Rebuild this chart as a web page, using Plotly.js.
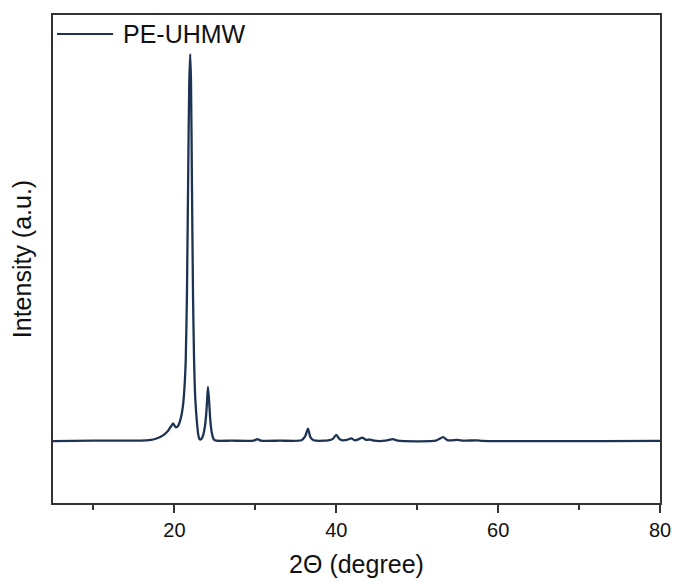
<!DOCTYPE html>
<html>
<head>
<meta charset="utf-8">
<script src="https://cdn.plot.ly/plotly-3.0.1.min.js"></script>
<style>html,body{margin:0;padding:0;background:#fff;}#plot{width:675px;height:581px;}</style>
</head>
<body>
<div id="plot"></div>
<script>
var seriesName = "PE-UHMW";
var twoTheta = [5, 10, 15, 16.5, 17.1, 17.7, 18.3, 18.8, 19.2, 19.55, 19.85, 20.15, 20.45, 20.8, 21.05, 21.25, 21.4, 21.55, 21.7, 21.83, 21.95, 22.05, 22.17, 22.3, 22.43, 22.58, 22.78, 22.95, 23.1, 23.25, 23.5, 23.75, 23.95, 24.05, 24.15, 24.3, 24.45, 24.65, 24.85, 25.2, 27, 29.8, 30.25, 30.7, 33, 35.7, 36.15, 36.5, 36.8, 37.2, 38.5, 39.0, 39.55, 40.0, 40.4, 40.8, 41.3, 41.85, 42.3, 42.8, 43.2, 43.7, 44.2, 44.7, 46.1, 47.0, 47.6, 52.3, 53.2, 53.8, 55.0, 55.7, 57.4, 58.1, 80];
var intensity = [0, 0.1, 0.1, 0.2, 0.3, 0.6, 1.1, 1.8, 2.6, 3.7, 4.6, 3.6, 3.9, 6.0, 9, 14, 21, 38, 68, 92, 100, 93, 66, 38, 21, 11, 5, 1.6, 0.5, 0.4, 1.2, 3.5, 7.5, 11, 14, 10, 5, 1.8, 0.5, 0.1, 0.1, 0.1, 0.5, 0.1, 0.1, 0.2, 1.2, 3.2, 1.0, 0.2, 0.1, 0.2, 0.5, 1.6, 0.5, 0.2, 0.3, 0.7, 0.2, 0.5, 0.9, 0.3, 0.4, 0.1, 0.1, 0.5, 0.1, 0.1, 1.0, 0.2, 0.3, 0.1, 0.2, 0.05, 0.05];
var xTickVals = [20, 40, 60, 80];
var xTickText = ["20", "40", "60", "80"];

var lineColor = "#1e3354";
var trace = {
  x: twoTheta, y: intensity, type: "scatter", mode: "lines", name: seriesName,
  line: {color: lineColor, width: 2.3, shape: "spline", smoothing: 0.6},
  showlegend: false, hoverinfo: "skip"
};
var layout = {
  width: 675, height: 581,
  margin: {l: 53, r: 15, t: 15, b: 78},
  paper_bgcolor: "#fff", plot_bgcolor: "#fff",
  font: {family: "Liberation Sans, Arial, sans-serif", color: "#111"},
  xaxis: {
    range: [5, 80], showgrid: false, zeroline: false,
    showline: true, mirror: true, linecolor: "#333", linewidth: 2,
    ticks: "outside", ticklen: 8, tickwidth: 2, tickcolor: "#333",
    tickvals: xTickVals, ticktext: xTickText,
    tickfont: {size: 20, color: "#111"},
    minor: {tickvals: [10, 30, 50, 70], ticks: "outside", ticklen: 5, tickwidth: 2, tickcolor: "#333", showgrid: false},
    title: {text: "2\u0398 (degree)", font: {size: 25, color: "#111"}, standoff: 15},
    automargin: false
  },
  yaxis: {
    range: [-16.0, 110.1], showgrid: false, zeroline: false,
    showline: true, mirror: true, linecolor: "#333", linewidth: 2,
    ticks: "", showticklabels: false,
    title: {text: "Intensity (a.u.)", font: {size: 25, color: "#111"}, standoff: 12},
    automargin: false
  },
  shapes: [{
    type: "line", xref: "paper", yref: "paper",
    x0: 0.0066, x1: 0.099, y0: 0.961, y1: 0.961,
    line: {color: lineColor, width: 2}
  }],
  annotations: [{
    xref: "paper", yref: "paper", x: 0.112, y: 0.961,
    xanchor: "left", yanchor: "middle", showarrow: false,
    text: seriesName, font: {size: 25, color: "#111"}
  }]
};
Plotly.newPlot("plot", [trace], layout, {staticPlot: true, displayModeBar: false});
</script>
</body>
</html>
